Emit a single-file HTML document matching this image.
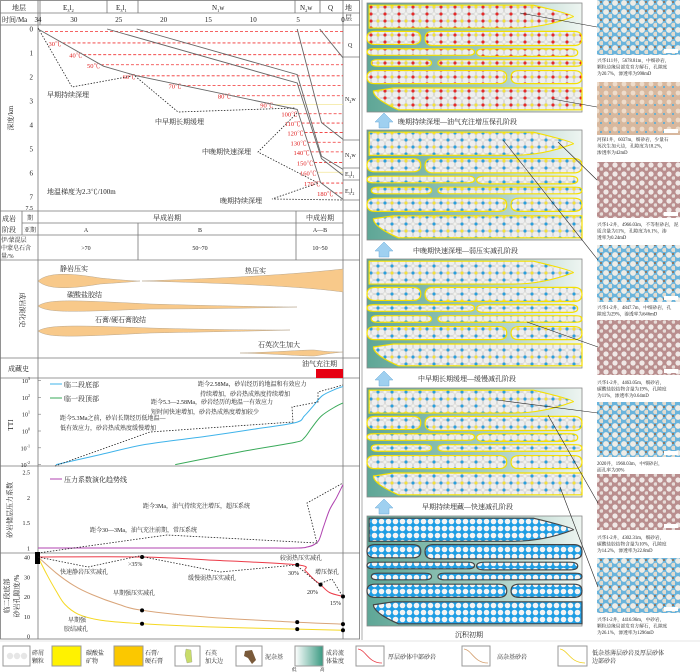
<!DOCTYPE html>
<html><head><meta charset="utf-8">
<style>
html,body{margin:0;padding:0;background:#fff;}
svg{display:block;font-family:"Liberation Serif","Noto Serif CJK SC",serif;}
.t{font-size:7px;fill:#222;}
.s{font-size:6px;fill:#222;}
.r{font-size:6.5px;fill:#e02020;}
.cap{font-size:4.7px;fill:#222;}
</style></head>
<body>
<svg id="fig" width="700" height="672" viewBox="0 0 700 672">
<defs>
  <pattern id="pRed" width="14" height="14" patternUnits="userSpaceOnUse"><rect width="14" height="14" fill="#f2f2ee"/><rect x="5.5" y="5.5" width="3" height="3" fill="#e52a2a"/><rect x="-1.5" y="5.5" width="3" height="3" fill="#f3e03a"/><rect x="12.5" y="5.5" width="3" height="3" fill="#f3e03a"/><rect x="5.5" y="-1.5" width="3" height="3" fill="#e52a2a"/><rect x="5.5" y="12.5" width="3" height="3" fill="#e52a2a"/><circle cx="3.5" cy="3.5" r="3.3" fill="#efefef" stroke="#b5b5b5" stroke-width="0.4"/><circle cx="10.5" cy="3.5" r="3.3" fill="#efefef" stroke="#b5b5b5" stroke-width="0.4"/><circle cx="3.5" cy="10.5" r="3.3" fill="#efefef" stroke="#b5b5b5" stroke-width="0.4"/><circle cx="10.5" cy="10.5" r="3.3" fill="#efefef" stroke="#b5b5b5" stroke-width="0.4"/></pattern>
  <pattern id="pBlue" width="14" height="14" patternUnits="userSpaceOnUse"><rect width="14" height="14" fill="#f2f2ee"/><rect x="5.5" y="5.5" width="3" height="3" fill="#2a9fdc"/><rect x="-1.5" y="-1.5" width="3" height="3" fill="#2a9fdc"/><rect x="12.5" y="-1.5" width="3" height="3" fill="#2a9fdc"/><rect x="-1.5" y="12.5" width="3" height="3" fill="#2a9fdc"/><rect x="12.5" y="12.5" width="3" height="3" fill="#2a9fdc"/><rect x="-1.5" y="5.5" width="3" height="3" fill="#f3e03a"/><rect x="12.5" y="5.5" width="3" height="3" fill="#f3e03a"/><circle cx="3.5" cy="3.5" r="3.3" fill="#efefef" stroke="#b5b5b5" stroke-width="0.4"/><circle cx="10.5" cy="3.5" r="3.3" fill="#efefef" stroke="#b5b5b5" stroke-width="0.4"/><circle cx="3.5" cy="10.5" r="3.3" fill="#efefef" stroke="#b5b5b5" stroke-width="0.4"/><circle cx="10.5" cy="10.5" r="3.3" fill="#efefef" stroke="#b5b5b5" stroke-width="0.4"/></pattern>
  <pattern id="pBlue5" width="7" height="7" patternUnits="userSpaceOnUse"><rect width="7" height="7" fill="#1f9ee4"/><circle cx="3.5" cy="3.5" r="2.8" fill="#f4f4f4"/></pattern>
  <linearGradient id="gPanel" x1="0" y1="0" x2="1" y2="0"><stop offset="0" stop-color="#5ea696"/><stop offset="0.6" stop-color="#a9cfc4"/><stop offset="1" stop-color="#eef5f1"/></linearGradient>
  <linearGradient id="gSal" x1="0" y1="0" x2="1" y2="0"><stop offset="0" stop-color="#fff"/><stop offset="1" stop-color="#3a9a82"/></linearGradient>
  <pattern id="pPhotoB" width="9" height="9" patternUnits="userSpaceOnUse"><rect width="9" height="9" fill="#6ab4dc"/><circle cx="3" cy="3" r="2.9" fill="#eeece6"/><circle cx="7.5" cy="7" r="2.3" fill="#e2dccf"/><rect x="6" y="1" width="2" height="2" fill="#8c7a6a"/></pattern>
  <pattern id="pPhotoT" width="9" height="9" patternUnits="userSpaceOnUse"><rect width="9" height="9" fill="#d8b89e"/><circle cx="3" cy="3" r="2.4" fill="#eedccb"/><rect x="6" y="5" width="2" height="2" fill="#6aaed0"/></pattern>
  <pattern id="pPhotoP" width="9" height="9" patternUnits="userSpaceOnUse"><rect width="9" height="9" fill="#b98e8e"/><circle cx="3" cy="3" r="2.6" fill="#f0e8e6"/><circle cx="7.5" cy="7" r="1.8" fill="#e6dcd8"/></pattern>
</defs>

<g stroke="#777" fill="none" stroke-width="0.8">
  <rect x="0.5" y="0.5" width="359" height="638.5"/>
  <line x1="0" y1="13" x2="360" y2="13"/>
  <line x1="0" y1="25" x2="360" y2="25"/>
  <line x1="38" y1="0" x2="38" y2="639"/>
  <line x1="40" y1="0" x2="40" y2="25"/>
  <line x1="343" y1="0" x2="343" y2="639"/>
  <line x1="107" y1="0" x2="107" y2="13"/><line x1="138" y1="0" x2="138" y2="13"/>
  <line x1="295" y1="0" x2="295" y2="13"/><line x1="320" y1="0" x2="320" y2="13"/>
  <line x1="343" y1="57" x2="360" y2="57"/><line x1="343" y1="140" x2="360" y2="140"/>
  <line x1="343" y1="168" x2="360" y2="168"/><line x1="343" y1="180" x2="360" y2="180"/><line x1="343" y1="200" x2="360" y2="200"/>
  <line x1="0" y1="211" x2="360" y2="211"/><line x1="22" y1="223" x2="343" y2="223"/>
  <line x1="0" y1="235" x2="360" y2="235"/><line x1="0" y1="260" x2="360" y2="260"/>
  <line x1="0" y1="358" x2="360" y2="358"/><line x1="0" y1="378" x2="360" y2="378"/>
  <line x1="0" y1="466" x2="360" y2="466"/><line x1="0" y1="553" x2="360" y2="553"/>
  <line x1="22" y1="211" x2="22" y2="235"/><line x1="296" y1="211" x2="296" y2="260"/>
  <line x1="138" y1="223" x2="138" y2="260"/>
</g>
<g>
  <text class="t" x="12" y="10">地层</text>
  <text class="t" x="63" y="10">E<tspan font-size="4.5" dy="2">3</tspan><tspan dy="-2">l</tspan><tspan font-size="4.5" dy="2">2</tspan></text>
  <text class="t" x="116" y="10">E<tspan font-size="4.5" dy="2">3</tspan><tspan dy="-2">l</tspan><tspan font-size="4.5" dy="2">1</tspan></text>
  <text class="t" x="212" y="10">N<tspan font-size="4.5" dy="2">1</tspan><tspan dy="-2">w</tspan></text>
  <text class="t" x="300" y="10">N<tspan font-size="4.5" dy="2">2</tspan><tspan dy="-2">w</tspan></text>
  <text class="t" x="328" y="10">Q</text>
  <text class="t" x="2" y="22">时间/Ma</text>
  <text class="t" x="345" y="10">地</text><text class="t" x="345" y="20">层</text>
  <text class="s" x="348" y="47">Q</text>
  <text class="s" x="345" y="101">N<tspan font-size="4" dy="2">2</tspan><tspan dy="-2">w</tspan></text>
  <text class="s" x="345" y="157">N<tspan font-size="4" dy="2">1</tspan><tspan dy="-2">w</tspan></text>
  <text class="s" x="345" y="176">E<tspan font-size="4" dy="2">3</tspan><tspan dy="-2">l</tspan><tspan font-size="4" dy="2">1</tspan></text>
  <text class="s" x="345" y="193">E<tspan font-size="4" dy="2">3</tspan><tspan dy="-2">l</tspan><tspan font-size="4" dy="2">2</tspan></text>
</g>
<g id="burial"></g>
<g>
  <polyline points="38,28 72,87 132,76" fill="none" stroke="#222" stroke-width="0.8" stroke-dasharray="1.5,1.5"/>
  <polyline points="135,76 178,112 295,108" fill="none" stroke="#222" stroke-width="0.8" stroke-dasharray="1.5,1.5"/>
  <polyline points="297,113 258,152 318,183" fill="none" stroke="#222" stroke-width="0.8" stroke-dasharray="1.5,1.5"/>
  <polyline points="318,183 272,199 343,200" fill="none" stroke="#222" stroke-width="0.8" stroke-dasharray="1.5,1.5"/>
  <text class="t" x="47" y="97">早期持续深埋</text>
  <text class="t" x="155" y="124">中早期长期缓埋</text>
  <text class="t" x="202" y="154">中晚期快速深埋</text>
  <text class="t" x="220" y="203">晚期持续深埋</text>
  <text class="t" x="47" y="194">地温梯度为2.3℃/100m</text>
  <text class="t" transform="translate(13,118) rotate(-90)" text-anchor="middle">深度/km</text>
</g>

<g>
  <text class="t" x="2" y="221">成岩</text><text class="t" x="2" y="232">阶段</text>
  <text class="s" x="27" y="220">期</text><text class="s" x="24" y="232">亚期</text>
  <text class="t" x="167" y="220" text-anchor="middle">早成岩期</text>
  <text class="t" x="320" y="220" text-anchor="middle">中成岩期</text>
  <text class="s" x="86" y="232" text-anchor="middle">A</text>
  <text class="s" x="200" y="232" text-anchor="middle">B</text>
  <text class="s" x="320" y="232" text-anchor="middle">A—B</text>
  <text class="s" x="1" y="242">伊/蒙混层</text><text class="s" x="1" y="250">中蒙皂石含</text><text class="s" x="1" y="258">量/%</text>
  <text class="s" x="86" y="250" text-anchor="middle">&gt;70</text>
  <text class="s" x="200" y="250" text-anchor="middle">50~70</text>
  <text class="s" x="320" y="250" text-anchor="middle">10~50</text>
</g>
<g>
  <text class="t" transform="translate(20,310) rotate(90)" text-anchor="middle">成岩演化史</text>
  <g fill="#f8c98a" stroke="#b9a890" stroke-width="0.5">
    <path d="M38,281 C48,272 70,273 100,278 C120,280 135,281 140,281 C130,282 115,283 100,284 C70,289 48,290 38,281Z"/>
    <path d="M142,281 C200,279 280,276 343,269 L343,292 C300,286 220,283 142,281Z"/>
    <path d="M38,306 C48,299 70,300 150,304 C220,306 280,307 297,307 C260,308 200,309 150,309 C70,312 48,313 38,306Z"/>
    <path d="M38,331 C48,325 70,325 150,328 C220,330 270,330 290,330 C260,331 200,332 150,333 C70,337 48,338 38,331Z"/>
    <path d="M240,353 C280,352 300,350 313,350 C318,350 322,352 343,352 C322,354 318,356 313,356 C300,356 280,354 240,353Z"/>
  </g>
  <text class="t" x="60" y="271">静岩压实</text>
  <text class="t" x="245" y="273">热压实</text>
  <text class="t" x="67" y="297">碳酸盐胶结</text>
  <text class="t" x="95" y="322">石膏/硬石膏胶结</text>
  <text class="t" x="258" y="347">石英次生加大</text>
</g>
<g>
  <text class="t" x="8" y="371">成藏史</text>
  <text class="t" x="302" y="366">油气充注期</text>
  <rect x="316" y="369" width="27" height="9" fill="#e60012"/>
</g>

<g id="tti"></g>
<g>
  <text class="t" transform="translate(13,425) rotate(-90)" text-anchor="middle">TTI</text>
  <line x1="50" y1="384" x2="62" y2="384" stroke="#3fb3ea" stroke-width="1"/><text class="t" x="64" y="387">临二段底部</text>
  <line x1="50" y1="398" x2="62" y2="398" stroke="#3aaa5a" stroke-width="1"/><text class="t" x="64" y="401">临一段顶部</text>
  <text class="s" x="198" y="386">距今2.58Ma，砂岩经历的地温和有效应力</text>
  <text class="s" x="200" y="396">持续增加，砂岩热成熟度持续增加</text>
  <text class="s" x="151" y="404">距今5.3—2.58Ma，砂岩经历的地温一有效应力</text>
  <text class="s" x="151" y="414">短时间快速增加，砂岩热成熟度增加较少</text>
  <text class="s" x="60" y="420">距今5.3Ma之前，砂岩长期经历低地温—</text>
  <text class="s" x="60" y="430">低有效应力，砂岩热成熟度缓慢增加</text>
  <polyline points="55,466 150,432 293,422 292,407 318,402 318,392 343,385" fill="none" stroke="#222" stroke-width="0.8" stroke-dasharray="1.5,1.5"/>
</g>

<g id="press"></g>
<g>
  <text class="t" transform="translate(12,510) rotate(-90)" text-anchor="middle">砂岩储层压力系数</text>
  <line x1="50" y1="479" x2="62" y2="479" stroke="#b043b0" stroke-width="1"/><text class="t" x="64" y="482">压力系数演化趋势线</text>
  <text class="s" x="143" y="508">距今3Ma，油气持续充注增压，超压系统</text>
  <text class="s" x="90" y="532">距今30—3Ma，油气充注前期，常压系统</text>
  <polyline points="38,553 167,535 317,543 307,503 343,483" fill="none" stroke="#222" stroke-width="0.8" stroke-dasharray="1.5,1.5"/>
</g>

<g id="poro"></g>
<g>
  <text class="t" transform="translate(9,596) rotate(-90)" text-anchor="middle">临二段底部</text>
  <text class="t" transform="translate(19,596) rotate(-90)" text-anchor="middle">砂岩孔隙度/%</text>
  <polyline points="38,557 88,567 139,556 220,572 296,565 319,584 332,579 343,597" fill="none" stroke="#222" stroke-width="0.8" stroke-dasharray="1.5,1.5"/>
  <text class="s" x="60" y="574">快速静岩压实减孔</text>
  <text class="s" x="128" y="566">&gt;35%</text>
  <text class="s" x="188" y="580">缓慢弱热压实减孔</text>
  <text class="s" x="280" y="560">较弱热压实减孔</text>
  <text class="s" x="288" y="575">30%</text>
  <text class="s" x="315" y="574">增压保孔</text>
  <text class="s" x="307" y="594">20%</text>
  <text class="s" x="330" y="605">15%</text>
  <text class="s" x="113" y="595">早期强压实减孔</text>
  <text class="s" x="68" y="622">早期强</text>
  <text class="s" x="64" y="631">胶结减孔</text>
</g>

<g>
  <g><rect x="3" y="646" width="27" height="20" fill="#fff" stroke="#999"/><circle cx="10" cy="656" r="3.2" fill="#e6e6e6"/><circle cx="17" cy="656" r="3.2" fill="#e6e6e6"/><circle cx="24" cy="656" r="3.2" fill="#e6e6e6"/><text class="s" x="32" y="655">碎屑</text><text class="s" x="32" y="663">颗粒</text></g>
  <g><rect x="52" y="646" width="29" height="20" fill="#fff200" stroke="#999"/><text class="s" x="86" y="655">碳酸盐</text><text class="s" x="86" y="663">矿物</text></g>
  <g><rect x="114" y="646" width="29" height="20" fill="#fbc800" stroke="#999"/><text class="s" x="145" y="655">石膏/</text><text class="s" x="145" y="663">硬石膏</text></g>
  <g><rect x="175" y="646" width="25" height="20" fill="#fff" stroke="#999"/><path d="M186,649 L191,650 L192,662 L187,663 L185,655Z" fill="#c8dc6a" stroke="#888" stroke-width="0.3"/><text class="s" x="205" y="655">石英</text><text class="s" x="205" y="663">加大边</text></g>
  <g><rect x="236" y="646" width="26" height="20" fill="#fff" stroke="#999"/><path d="M245,651 L252,650 L256,660 L252,664 L248,658 L244,656Z" fill="#7a5a3a"/><text class="s" x="265" y="659">泥杂基</text></g>
  <g><rect x="295" y="646" width="28" height="20" fill="url(#gSal)" stroke="#999"/><text class="s" x="326" y="655">成岩流</text><text class="s" x="326" y="663">体盐度</text><text style="font-size:4.5px" x="292" y="671">低</text><text style="font-size:4.5px" x="320" y="671">高</text></g>
  <g><rect x="356" y="646" width="28" height="20" fill="#fff" stroke="#999"/><path d="M358,649 C366,650 368,663 382,663" fill="none" stroke="#e8404a" stroke-width="0.8"/><text class="s" x="388" y="659">厚层砂体中部砂岩</text></g>
  <g><rect x="462" y="646" width="28" height="20" fill="#fff" stroke="#999"/><path d="M464,649 C472,650 474,663 488,663" fill="none" stroke="#d4a070" stroke-width="0.8"/><text class="s" x="497" y="659">高杂基砂岩</text></g>
  <g><rect x="558" y="646" width="29" height="20" fill="#fff" stroke="#999"/><path d="M560,649 C568,650 570,663 585,663" fill="none" stroke="#f0d020" stroke-width="0.8"/><text class="s" x="592" y="655">低杂基薄层砂岩及厚层砂体</text><text class="s" x="592" y="663">边部砂岩</text></g>
</g>
<line x1="0" y1="641" x2="700" y2="641" stroke="#ccc" stroke-width="0.6"/>

<line x1="362" y1="0" x2="362" y2="640" stroke="#999" stroke-width="0.8"/>
<g id="stages"></g>
<g>
  <text class="t" x="398" y="124">晚期持续深埋—油气充注增压保孔阶段</text>
  <text class="t" x="413" y="253">中晚期快速深埋—弱压实减孔阶段</text>
  <text class="t" x="418" y="381">中早期长期缓埋—缓慢减孔阶段</text>
  <text class="t" x="422" y="509">早期持续埋藏—快速减孔阶段</text>
  <text class="t" x="455" y="637">沉积初期</text>
</g>
<g fill="#9fd0f0" stroke="#6aaad8" stroke-width="0.5">
  <path d="M379,128 L379,122 L375,122 L384,113 L393,122 L389,122 L389,128Z"/>
  <path d="M379,257 L379,251 L375,251 L384,242 L393,251 L389,251 L389,257Z"/>
  <path d="M379,386 L379,380 L375,380 L384,371 L393,380 L389,380 L389,386Z"/>
  <path d="M379,514 L379,508 L375,508 L384,499 L393,508 L389,508 L389,514Z"/>
</g>
<g id="photos"></g>
<g stroke="#222" stroke-width="0.6">
  <line x1="520" y1="13" x2="597" y2="27"/>
  <line x1="552" y1="99" x2="597" y2="107"/>
  <line x1="503" y1="140" x2="598" y2="260"/>
  <line x1="558" y1="142" x2="597" y2="180"/>
  <line x1="527" y1="322" x2="598" y2="347"/>
  <line x1="497" y1="400" x2="598" y2="413"/>
  <line x1="548" y1="415" x2="598" y2="503"/>
  <line x1="560" y1="487" x2="598" y2="587"/>
</g>
</svg>

<script>
const maTicks = [34,30,25,20,15,10,5,0];
function xMa(ma){ return 38 + (34 - ma) * 8.97; }
function catmull(pts){
  let d = 'M' + pts[0][0].toFixed(1) + ',' + pts[0][1].toFixed(1);
  for (let i=0;i<pts.length-1;i++){
    const p0=pts[i-1]||pts[i], p1=pts[i], p2=pts[i+1], p3=pts[i+2]||p2;
    const c1=[p1[0]+(p2[0]-p0[0])/6, p1[1]+(p2[1]-p0[1])/6];
    const c2=[p2[0]-(p3[0]-p1[0])/6, p2[1]-(p3[1]-p1[1])/6];
    d += ' C'+c1[0].toFixed(1)+','+c1[1].toFixed(1)+' '+c2[0].toFixed(1)+','+c2[1].toFixed(1)+' '+p2[0].toFixed(1)+','+p2[1].toFixed(1);
  }
  return d;
}
const NS='http://www.w3.org/2000/svg';
function mk(tag, attrs, parent){ const e=document.createElementNS(NS,tag); for(const k in attrs) e.setAttribute(k,attrs[k]); parent.appendChild(e); return e; }

// ---------- burial history data ----------
const depthTicks = [0,1,2,3,4,5,6,7];
const burialBaseE3l2 = [[34,0],[26.7,1.55],[23,1.95],[5.1,3.35],[2.5,6.4],[0,7.1]];
const burialBaseE3l1 = [[26.3,0],[5.1,2.25],[2.4,5.4],[0,6.1]];
const burialBaseN1w = [[23,0],[5.1,1.9],[2.4,5.3],[0,5.85]];
const burialBaseN2w = [[5.1,0],[2.4,3.9],[0,4.6]];
const burialBaseQ = [[2.6,0],[0,1.2]];
const isoTemps = [30,40,50,60,70,80,90,100,110,120,130,140,150,160,170,180];
const isoDepths = [0.58,1.07,1.49,1.95,2.35,2.78,3.15,3.53,3.92,4.31,4.72,5.12,5.56,5.97,6.42,6.83];
function yDepth(d){ return 29 + d*24; }

// ---------- TTI data (log10) ----------
const ttiTicksExp = [3,2,1,0,-1,-2];
const ttiBlue = [[32,-2.0],[27,-1.4],[22,-0.8],[15,-0.3],[10,0.1],[5.3,0.5],[4.3,0.9],[3.3,1.5],[2.3,2.1],[1,2.45],[0,2.65]];
const ttiGreen = [[18.7,-2.0],[14,-1.5],[10,-1.1],[5.3,-0.67],[4.3,-0.4],[3.4,0.25],[2.4,0.9],[1,1.4],[0,1.67]];
function yTTI(v){ return 431 - v*16.8; }

// ---------- pressure data ----------
const pressTicks = [2.5,2,1.5,1];
const pressCoef = [[34,1],[20,1],[10,1],[5,1.0],[4,1.02],[3.3,1.06],[2.7,1.15],[2.2,1.4],[1.5,1.75],[0.7,2.0],[0,2.25]];
function yP(p){ return 548 - (p-1)*50.7; }

// ---------- porosity data ----------
const poroTicks = [40,30,20,10,0];
const poroRed = [[34,40],[22.4,40],[15,38.5],[5.1,36],[4.2,33],[3.2,28.5],[2.5,26],[1.5,22],[0,20]];
const poroTan = [[34,40],[32,32],[30,25.5],[28,21],[25,16],[22.4,13],[15,9.5],[5.1,7],[0,6]];
const poroYellow = [[34,40],[33,31],[32,23],[31,16],[29.5,11],[27,8],[22.4,6.2],[15,4.6],[5.1,3.5],[0,2.9]];
const poroRedMarks = [[34,40],[22.4,40],[5.1,36],[2.5,26],[0,20]];
const poroTanMarks = [[22.4,13],[5.1,7],[0,6]];
const poroYellowMarks = [[22.4,6.2],[5.1,3.5],[0,2.9]];
function yPo(v){ return 636 - v*1.975; }

(function(){
  const g=document.getElementById('burial');
  maTicks.forEach(function(m){
    const t=mk('text',{x:xMa(m),y:22,'text-anchor':'middle',class:'t'},g); t.textContent=m;
    
    
  });
  depthTicks.forEach(function(d){
    const t=mk('text',{x:33,y:yDepth(d)+2.5,'text-anchor':'end',class:'t'},g); t.textContent=d;
    
    
  });
  const t75=mk('text',{x:33,y:210,'text-anchor':'end',class:'s'},g); t75.textContent='7.5';
  
  
  function invX(d){
    const L=burialBaseE3l2;
    for(let i=0;i<L.length-1;i++){ if(d>=L[i][1] && d<=L[i+1][1]){ const f=(d-L[i][1])/(L[i+1][1]-L[i][1]); return L[i][0]+(L[i+1][0]-L[i][0])*f; } }
    return 0;
  }
  const sl=mk('line',{x1:45,x2:343,y1:yDepth(0.1),y2:yDepth(0.1),stroke:'#f03030','stroke-width':0.8,'stroke-dasharray':'3,2'},g);
  
  
  isoTemps.forEach(function(T,i){
    const d=isoDepths[i], xc=xMa(invX(d));
    const hl=(T===90||T===160);
    const ln=mk('line',{x1:xc,x2:343,y1:yDepth(d),y2:yDepth(d),stroke:hl?'#f3e79a':'#f03030','stroke-width':0.8,'stroke-dasharray':hl?'none':'3,2'},g);
    
    
    const lb=mk('text',{x:xc-1,y:yDepth(d)+3,'text-anchor':'end',class:'r'},g); lb.textContent=T+'℃';
    
    
  });
  [[burialBaseE3l2,'burial-e3l2'],[burialBaseE3l1,'burial-e3l1'],[burialBaseN1w,'burial-n1w'],[burialBaseN2w,'burial-n2w'],[burialBaseQ,'burial-q']].forEach(function(s){
    const p=mk('polyline',{points:s[0].map(function(q){return xMa(q[0]).toFixed(1)+','+yDepth(q[1]).toFixed(1);}).join(' '),fill:'none',stroke:'#666','stroke-width':0.9},g);
    
    
  });
})();

(function(){
  const g=document.getElementById('tti');
  ttiTicksExp.forEach(function(e){
    const t=mk('text',{x:30,y:yTTI(e)+2.5,'text-anchor':'end',class:'s'},g);
    t.textContent='10'; const sp=mk('tspan',{'font-size':4,dy:-3},t); sp.textContent=e;
    
    
    const tk=mk('line',{x1:38,x2:41,y1:yTTI(e),y2:yTTI(e),stroke:'#777','stroke-width':0.6},g);
    
    
  });
  const b=mk('path',{d:catmull(ttiBlue.map(function(p){return [xMa(p[0]),yTTI(p[1])];})),fill:'none',stroke:'#3fb3ea','stroke-width':1},g);
  
  
  const gr=mk('path',{d:catmull(ttiGreen.map(function(p){return [xMa(p[0]),yTTI(p[1])];})),fill:'none',stroke:'#3aaa5a','stroke-width':1},g);
  
  
})();

(function(){
  const g=document.getElementById('press');
  pressTicks.forEach(function(p){
    const t=mk('text',{x:30,y:yP(p)+2.5,'text-anchor':'end',class:'s'},g); t.textContent=p;
    
    
  });
  const l=mk('path',{d:catmull(pressCoef.map(function(p){return [xMa(p[0]),yP(p[1])];})),fill:'none',stroke:'#b043b0','stroke-width':1},g);
  
  
})();

(function(){
  const g=document.getElementById('poro');
  poroTicks.forEach(function(v){
    const t=mk('text',{x:30,y:yPo(v)+2.5,'text-anchor':'end',class:'s'},g); t.textContent=v;
    
    
  });
  [[poroYellow,'#f5d823','porosity-line-low-matrix'],[poroTan,'#d9a57a','porosity-line-high-matrix'],[poroRed,'#ec3b48','porosity-line-thick-sand']].forEach(function(s){
    const l=mk('path',{d:catmull(s[0].map(function(p){return [xMa(p[0]),yPo(p[1])];})),fill:'none',stroke:s[1],'stroke-width':1},g);
    
    
  });
  poroRedMarks.concat(poroTanMarks,poroYellowMarks).forEach(function(p){
    const c=mk('circle',{cx:xMa(p[0]),cy:yPo(p[1]),r:2,fill:'#000'},g);
    
    
  });
  const r=mk('rect',{x:35,y:552,width:5,height:12,fill:'#000'},g);
  
  
})();

(function(){
  const g=document.getElementById('stages');
  const panels=[[3,112,'pRed','#f5e000'],[130,240,'pBlue','#f5e000'],[259,368,'pBlue','#f5e000'],[388,497,'pBlue','#f5e000'],[516,626,'pBlue5','#444']];
  const lenses=[[0.01,0.96,0.02,0.23,'R'],[0.0,0.25,0.26,0.38,''],[0.27,1.0,0.26,0.39,''],[0.0,0.5,0.42,0.48,''],[0.51,0.98,0.42,0.49,''],[0.02,0.3,0.52,0.58,''],[0.33,1.0,0.52,0.58,''],[0.0,0.65,0.62,0.74,''],[0.67,1.0,0.62,0.74,''],[0.03,1.0,0.78,0.98,'L']];
  const X0=367,W=215;
  panels.forEach(function(pn,pi){
    const y0=pn[0],H=pn[1]-pn[0];
    const bg=mk('rect',{x:X0,y:y0,width:W,height:H,fill:'url(#gPanel)',stroke:'#888','stroke-width':0.8},g);
    
    
    lenses.forEach(function(L){
      const x1=X0+L[0]*W,x2=X0+L[1]*W,y1=y0+L[2]*H,y2=y0+L[3]*H,ym=(y1+y2)/2,r=Math.min(8,(y2-y1));
      let d;
      if(L[4]==='R') d='M'+x1+','+y1+' L'+(x2-40)+','+y1+' Q'+x2+','+(ym-2)+' '+x2+','+ym+' Q'+(x2-30)+','+y2+' '+(x2-60)+','+y2+' L'+x1+','+y2+'Z';
      else if(L[4]==='L') d='M'+(x1+20)+','+y1+' L'+x2+','+y1+' L'+x2+','+y2+' L'+(x1+25)+','+y2+' Q'+x1+','+ym+' '+x1+','+(y1+3)+' Z';
      else d='M'+(x1+r)+','+y1+' L'+(x2-r)+','+y1+' Q'+x2+','+y1+' '+x2+','+ym+' Q'+x2+','+y2+' '+(x2-r)+','+y2+' L'+(x1+r)+','+y2+' Q'+x1+','+y2+' '+x1+','+ym+' Q'+x1+','+y1+' '+(x1+r)+','+y1+'Z';
      const p=mk('path',{d:d,fill:'url(#'+pn[2]+')',stroke:pn[3],'stroke-width':1.2},g);
      
      
    });
  });
})();

(function(){
  const g=document.getElementById('photos');
  const ph=[[0,55,'pPhotoB'],[82,135,'pPhotoT'],[162,218,'pPhotoP'],[245,302,'pPhotoB'],[320,375,'pPhotoP'],[402,457,'pPhotoB'],[474,530,'pPhotoP'],[558,613,'pPhotoB']];
  const caps=[
    ['兴华111井，5678.81m，中细砂岩，','颗粒边缘局部发育方解石，孔隙度','为20.7%，渗透率为998mD'],
    ['河探1井，6037m，细砂岩，少量石','英次生加大边，孔隙度为18.2%，','渗透率为42mD'],
    ['兴华1-2井，4966.03m，不等粒砂岩，泥','质含量为11%，孔隙度为6.1%，渗','透率为0.24mD'],
    ['兴华1-2井，4847.7m，中细砂岩，孔','隙度为29%，渗透率为646mD'],
    ['兴华1-2井，4463.05m，细砂岩，','碳酸盐胶结物含量为19%，孔隙度','为11%，渗透率为0.64mD'],
    ['2020井，1960.03m，中细砂岩，','面孔率为30%'],
    ['兴华1-2井，4302.31m，细砂岩，','碳酸盐胶结物含量为10%，孔隙度','为14.2%，渗透率为22.8mD'],
    ['兴华1-2井，4416.96m，中砂岩，','颗粒边缘局部发育方解石，孔隙度','为26.1%，渗透率为1296mD']];
  const capY=[62,141,226,309,384,465,539,621];
  ph.forEach(function(p,i){
    const r=mk('rect',{x:597,y:p[0],width:83,height:p[1]-p[0],fill:'url(#'+p[2]+')'},g);
    
    
    const sc=mk('rect',{x:664,y:p[1]-6,width:14,height:4,fill:'#fff'},g);
    
    
    caps[i].forEach(function(line,j){
      const t=mk('text',{x:597,y:capY[i]+j*6.5,class:'cap'},g); t.textContent=line;
      
      
    });
  });
})();
</script>
</body></html>
